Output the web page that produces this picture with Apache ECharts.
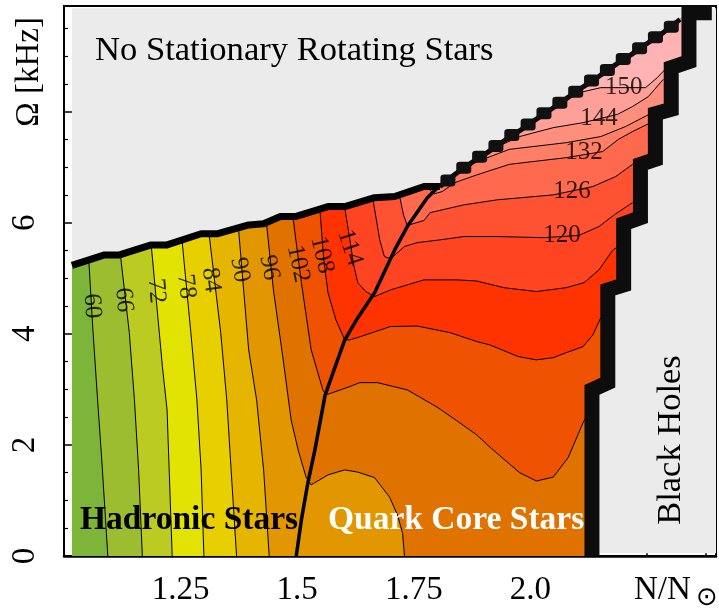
<!DOCTYPE html>
<html><head><meta charset="utf-8">
<script src="https://cdn.jsdelivr.net/npm/echarts@6/dist/echarts.min.js"></script>
<style>html,body{margin:0;padding:0;background:#fff}#c{width:719px;height:610px}</style>
</head><body><div id="c"></div>
<script>
// ---- data (N/Nsun, Omega kHz) ----
const levels = [60,66,72,78,84,90,96,102,108,114,120,126,132,138,144,150];
const bandColors = ['#7db43a','#9bbd2f','#bccb22','#e3e303','#e8cf00','#e5b500','#e29600','#e07200',
  '#ef5200','#ff3300','#ff4422','#ff5233','#ff6a4e','#ff7e66','#ff8f7c','#ffa098','#ffb3b3'];

const c60 = [[1.053,5.35],[1.062,4.07],[1.072,2.81],[1.081,1.73],[1.094,0]];
const c66 = [[1.121,5.42],[1.140,4.02],[1.151,2.81],[1.160,1.55],[1.168,0]];
const c72 = [[1.187,5.60],[1.211,3.41],[1.221,2.63],[1.232,0]];
const c78 = [[1.253,5.69],[1.272,4.02],[1.285,2.81],[1.294,1.55],[1.300,0]];
const c84 = [[1.311,5.80],[1.336,4.02],[1.349,2.81],[1.357,1.73],[1.370,0]];
const c90 = [[1.374,5.91],[1.396,3.71],[1.413,2.81],[1.428,1.55],[1.440,0]];
const c96 = [[1.434,6.00],[1.449,4.79],[1.470,3.53],[1.487,2.45],[1.502,1.91],[1.519,1.42],[1.530,1.28],[1.566,1.46],[1.602,1.55],[1.630,1.51],[1.666,1.41],[1.698,1.06],[1.715,0.74],[1.726,0.41],[1.730,0]];
const c102 = [[1.491,6.09],[1.509,4.92],[1.530,3.71],[1.555,2.99],[1.562,2.90],[1.613,3.05],[1.634,3.12],[1.672,3.12],[1.736,2.99],[1.800,2.68],[1.843,2.43],[1.885,2.18],[1.913,1.96],[1.977,1.50],[2.013,1.35],[2.049,1.42],[2.081,1.77],[2.113,2.40],[2.119,2.49]];
const c108 = [[1.549,6.20],[1.557,5.33],[1.566,4.74],[1.583,4.25],[1.602,3.89],[1.613,3.89],[1.636,3.95],[1.700,4.13],[1.757,4.14],[1.828,4.02],[1.885,3.86],[1.913,3.80],[1.974,3.59],[2.013,3.53],[2.049,3.57],[2.077,3.66],[2.113,3.77],[2.134,3.98],[2.151,4.29]];
const c114 = [[1.602,6.27],[1.613,5.69],[1.621,5.24],[1.630,4.92],[1.647,4.76],[1.666,4.67],[1.700,4.79],[1.772,4.97],[1.843,4.97],[1.885,4.95],[1.943,4.83],[2.013,4.76],[2.077,4.83],[2.115,4.92],[2.147,5.15],[2.177,5.51],[2.185,5.55]];
const c120 = [[1.662,6.44],[1.668,6.14],[1.677,5.69],[1.687,5.39],[1.700,5.35],[1.730,5.57],[1.757,5.64],[1.806,5.69],[1.857,5.75],[1.928,5.75],[2.028,5.73],[2.104,5.77],[2.147,5.93],[2.183,6.16],[2.219,6.36]];
const c126 = [[1.719,6.50],[1.728,6.14],[1.736,5.95],[1.772,6.04],[1.785,6.18],[1.857,6.32],[1.928,6.41],[2.049,6.50],[2.134,6.65],[2.183,6.83],[2.219,7.05],[2.230,7.08]];
const c132 = [[1.779,6.63],[1.794,6.52],[1.811,6.56],[1.838,6.72],[1.885,6.86],[1.955,7.05],[2.077,7.17],[2.155,7.28],[2.189,7.50],[2.219,7.64],[2.253,7.78]];
const c138 = [[1.864,7.03],[1.955,7.32],[2.077,7.44],[2.151,7.55],[2.204,7.73],[2.257,7.96]];
const c144 = [[1.917,7.32],[1.977,7.55],[2.049,7.71],[2.113,7.80],[2.187,7.95],[2.219,8.09],[2.253,8.27],[2.285,8.58]];
const c150 = [[2.089,8.31],[2.151,8.43],[2.247,8.43],[2.272,8.61],[2.289,8.76]];
const contours = [c60,c66,c72,c78,c84,c90,c96,c102,c108,c114,c120,c126,c132,c138,c144,c150];

// hadron / quark-core transition line
const phaseLine = [[1.498,0],[1.509,0.65],[1.523,1.32],[1.538,1.91],[1.560,2.90],[1.602,3.89],[1.630,4.29],[1.666,4.74],[1.709,5.51],[1.736,5.93],[1.779,6.45],[1.806,6.67]];
// mass-shedding (Kepler) limit
const topBoundary = [[1.017,5.23],[1.087,5.42],[1.119,5.42],[1.187,5.60],[1.221,5.60],[1.294,5.80],[1.328,5.80],[1.396,5.96],[1.428,5.98],[1.464,6.11],[1.496,6.11],[1.566,6.29],[1.602,6.29],[1.666,6.45],[1.709,6.47],[1.772,6.65],[1.806,6.65]];
const staircase = [[1.806,6.65],[1.840,6.88],[1.874,7.08],[1.909,7.27],[1.943,7.47],[1.978,7.66],[2.012,7.86],[2.046,8.05],[2.080,8.25],[2.114,8.45],[2.148,8.64],[2.182,8.84],[2.217,9.03],[2.251,9.23],[2.285,9.42],[2.321,9.66]];
// black-hole limit
const rightBoundary = [[2.389,9.78],[2.340,9.78],[2.340,8.90],[2.302,8.79],[2.302,8.04],[2.268,7.96],[2.268,7.14],[2.236,7.05],[2.236,6.09],[2.200,5.98],[2.200,4.88],[2.166,4.79],[2.166,3.12],[2.132,2.99],[2.132,0]];
const domainLeft = [[1.017,0]];

// contour labels
const labelText = ['60','66','72','78','84','90','96','102','108','114','120','126','132','144','150'];
const labelPos = [[1.060,4.50],[1.128,4.61],[1.198,4.77],[1.262,4.85],[1.315,4.97],[1.377,5.15],[1.440,5.19],[1.502,5.26],[1.553,5.42],[1.613,5.55],[2.068,5.77],[2.089,6.56],[2.115,7.26],[2.147,7.87],[2.200,8.43]];
const labelRotate = [-87,-86,-85,-84,-82,-80,-78,-78,-77,-72,0,0,0,0,0];

const xTickLabels = {'1.25':'1.25','1.5':'1.5','1.75':'1.75','2':'2.0'};
const yTickLabels = {'0':'0','2':'2','4':'4','6':'6'};

// ---- build ----
const domainLoop = domainLeft.concat(topBoundary, staircase.slice(1), rightBoundary.slice(1));

function project(p, loop){
  let best = {seg:0, d:Infinity};
  const n = loop.length;
  for (let i=0;i<n;i++){
    const a = loop[i], b = loop[(i+1)%n];
    const dx=b[0]-a[0], dy=b[1]-a[1];
    const L = dx*dx+dy*dy;
    let t = L ? ((p[0]-a[0])*dx+(p[1]-a[1])*dy)/L : 0;
    t = Math.max(0, Math.min(1, t));
    const qx=a[0]+t*dx, qy=a[1]+t*dy;
    const d=(p[0]-qx)*(p[0]-qx)+(p[1]-qy)*(p[1]-qy);
    if (d<best.d) best={seg:i,d:d};
  }
  return best;
}
function closeRegion(c, loop){
  const n = loop.length;
  const A = project(c[0], loop), B = project(c[c.length-1], loop);
  const pts = c.slice();
  let j = B.seg, guard = 0;
  while (j !== A.seg && guard++ < n){ pts.push(loop[j]); j = (j-1+n)%n; }
  return pts;
}

const chart = echarts.init(document.getElementById('c'), null, {renderer:'canvas'});
const serif = 'Liberation Serif';
const lineBase = {type:'line', symbol:'none', silent:true, animation:false, clip:true};

const series = [];
series.push({type:'line', data:[], silent:true, z:1, animation:false,
  markArea:{silent:true, itemStyle:{color:'#ebebeb'}, data:[[{coord:[1.017,0.05]},{coord:[2.398,9.86]}]]}});
series.push({type:'custom', coordinateSystem:'cartesian2d', z:2, silent:true, animation:false, clip:true,
  data: bandColors.map((c,i)=>[1.5,5,i]),
  encode:{x:0,y:1},
  renderItem:function(params, api){
    const i = params.dataIndex;
    const loopPx = domainLoop.map(p=>api.coord(p));
    let pts;
    if (i===0) pts = loopPx;
    else pts = closeRegion(contours[i-1].map(p=>api.coord(p)), loopPx);
    return {type:'polygon', shape:{points:pts}, style:{fill:bandColors[i], stroke:null}};
  }});
contours.forEach((c,i)=>series.push(Object.assign({}, lineBase, {name:'L'+levels[i], data:c, z:3,
  lineStyle:{color:'#000', width:1}})));
series.push(Object.assign({}, lineBase, {data:phaseLine, z:4, lineStyle:{color:'#000', width:3.5}}));
series.push(Object.assign({}, lineBase, {data:topBoundary, z:5, lineStyle:{color:'#000', width:7, join:'round'}}));
series.push(Object.assign({}, lineBase, {data:staircase, z:5, lineStyle:{color:'#0a0a0a', width:5}}));
series.push({type:'scatter', data:staircase.slice(0,-1), z:6, silent:true, animation:false,
  symbol:'roundRect', symbolSize:[15,12], symbolOffset:[8,-6], itemStyle:{color:'#111', opacity:1}});
series.push(Object.assign({}, lineBase, {data:rightBoundary, z:5, lineStyle:{color:'#0d0d0d', width:15, join:'miter', cap:'butt'}}));
series.push({type:'scatter', z:7, silent:true, animation:false, symbolSize:2, itemStyle:{color:'rgba(0,0,0,0)'},
  data: labelPos.map((p,i)=>({value:p, name:labelText[i], label:{show:true, rotate:labelRotate[i]}})),
  label:{show:true, position:'inside', formatter:p=>p.name, fontFamily:serif, fontSize:25, color:'#000'}});

chart.setOption({
  animation:false,
  grid:{left:64, top:6, right:-2, bottom:54, show:true, borderColor:'#000', borderWidth:2, backgroundColor:'transparent'},
  xAxis:{type:'value', min:1, max:2.398, interval:0.125,
    axisLine:{lineStyle:{color:'#000', width:2.5}},
    axisTick:{inside:true, length:5, lineStyle:{color:'#000', width:1.5}},
    splitLine:{show:false},
    axisLabel:{formatter:v=>xTickLabels[String(+v.toFixed(3))]||'', fontFamily:serif, fontSize:33, color:'#000', margin:18, hideOverlap:false, showMinLabel:true, showMaxLabel:true}},
  yAxis:{type:'value', min:0, max:9.9, interval:2,
    axisLine:{lineStyle:{color:'#000', width:2}},
    axisTick:{inside:true, length:8, lineStyle:{color:'#000', width:1.5}},
    minorTick:{show:true, splitNumber:4, length:4, lineStyle:{color:'#000', width:1.2}},
    splitLine:{show:false},
    axisLabel:{rotate:90, formatter:v=>yTickLabels[String(v)]||'', fontFamily:serif, fontSize:33, color:'#000', margin:22, showMaxLabel:false}},
  graphic:[
    {type:'text', z:100, x:95, y:51, style:{text:'No Stationary Rotating Stars', fontFamily:serif, fontSize:34.6, fill:'#000', verticalAlign:'middle'}},
    {type:'text', z:100, x:80, y:520, style:{text:'Hadronic Stars', fontFamily:serif, fontSize:33.5, fontWeight:'bold', fill:'#000', verticalAlign:'middle'}},
    {type:'text', z:100, x:328, y:520, style:{text:'Quark Core Stars', fontFamily:serif, fontSize:33.5, fontWeight:'bold', fill:'#fff', verticalAlign:'middle'}},
    {type:'text', z:100, x:671, y:440, rotation:Math.PI/2, style:{text:'Black Holes', fontFamily:serif, fontSize:34.5, fill:'#000', align:'center', verticalAlign:'middle'}},
    {type:'text', z:100, x:29, y:72, rotation:Math.PI/2, style:{text:'Ω [kHz]', fontFamily:serif, fontSize:33, fill:'#000', align:'center', verticalAlign:'middle'}},
    {type:'text', z:100, x:634, y:590, style:{text:'N/N', fontFamily:serif, fontSize:33, fill:'#000', verticalAlign:'middle'}},
    {type:'text', z:100, x:707, y:598, style:{text:'⊙', fontFamily:'DejaVu Sans', fontSize:26, fill:'#000', align:'center', verticalAlign:'middle'}}
  ],
  series:series
});
</script></body></html>
